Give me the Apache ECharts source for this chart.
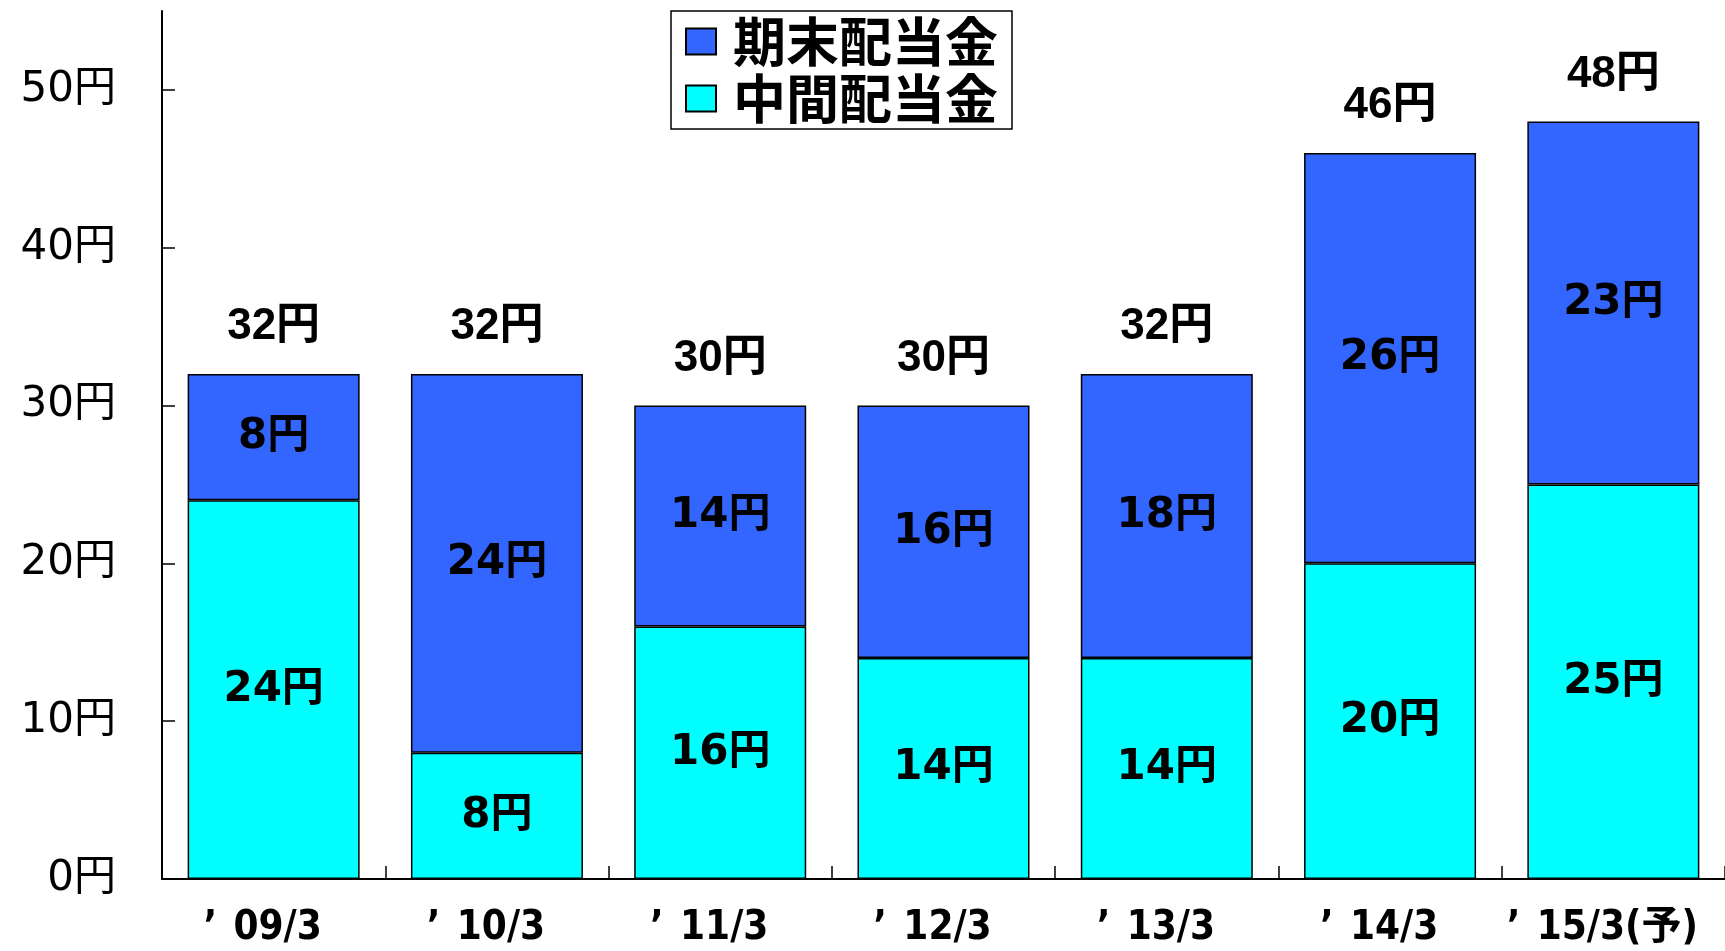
<!DOCTYPE html>
<html>
<head>
<meta charset="utf-8">
<script src="https://cdn.jsdelivr.net/npm/echarts@6/dist/echarts.min.js"></script>
<style>
html,body{margin:0;padding:0;background:#fff;}
#c{width:1725px;height:951px;}
</style>
</head>
<body>
<div id="c"></div>
<script>
var categories = ["’09/3", "’10/3", "’11/3", "’12/3", "’13/3", "’14/3", "’15/3(予)"];
var interimDividend = [24, 8, 16, 14, 14, 20, 25];   // 中間配当金
var yearEndDividend = [8, 24, 14, 16, 18, 26, 23];   // 期末配当金
var totalDividend = [32, 32, 30, 30, 32, 46, 48];
var yTicks = [0, 10, 20, 30, 40, 50];

var chart = echarts.init(document.getElementById('c'), null, {renderer: 'canvas'});
var insideLabel = {
  show: true,
  position: 'inside',
  formatter: function (p) { return p.value + '円'; },
  color: '#000',
  fontSize: 42,
  fontWeight: 'bold',
  fontFamily: '"DejaVu Sans", "Noto Sans CJK JP", sans-serif'
};
var xFont = '"Liberation Sans Narrow", "DejaVu Sans Condensed", "Noto Sans CJK JP", sans-serif';
chart.setOption({
  animation: false,
  backgroundColor: '#fff',
  grid: {left: 162, right: 0, top: 11, bottom: 72, containLabel: false},
  legend: {
    data: ['期末配当金', '中間配当金'],
    orient: 'vertical',
    left: 671,
    top: 11,
    padding: [4, 14, 4, 14],
    itemGap: 4,
    itemWidth: 30,
    itemHeight: 26,
    borderColor: '#000',
    borderWidth: 1.5,
    icon: 'rect',
    selectedMode: false,
    textStyle: {
      fontSize: 53,
      fontWeight: 'bold',
      color: '#000',
      fontFamily: '"Noto Sans CJK JP", sans-serif',
      padding: [0, 0, 0, 12]
    }
  },
  xAxis: {
    type: 'category',
    data: categories,
    axisLine: {lineStyle: {color: '#000', width: 2}},
    axisTick: {show: true, inside: true, interval: 0, length: 13, lineStyle: {color: '#000', width: 1.5}},
    axisLabel: {
      interval: 0,
      margin: 30,
      padding: [0, 22, 0, 0],
      color: '#000',
      fontSize: 40,
      fontWeight: 'bold',
      fontFamily: xFont,
      formatter: function (v) {
        return '{q|' + v.charAt(0) + '}' + v.slice(1);
      },
      rich: {
        q: {width: 30, align: 'left', fontSize: 40, fontWeight: 'bold', fontFamily: xFont, color: '#000'}
      }
    }
  },
  yAxis: {
    type: 'value',
    min: 0,
    max: 55,
    interval: 10,
    splitLine: {show: false},
    axisLine: {show: true, lineStyle: {color: '#000', width: 2}},
    axisTick: {show: true, inside: true, length: 13, lineStyle: {color: '#000', width: 1.5}, customValues: yTicks},
    axisLabel: {
      customValues: yTicks,
      margin: 46,
      color: '#000',
      fontSize: 42,
      fontFamily: '"DejaVu Sans", "Noto Sans CJK JP", sans-serif',
      formatter: function (v) { return v + '円'; }
    }
  },
  series: [
    {
      name: '中間配当金',
      type: 'bar',
      stack: 'd',
      barWidth: 172,
      data: interimDividend,
      itemStyle: {color: '#00FFFF', borderColor: '#000', borderWidth: 1.5},
      label: insideLabel
    },
    {
      name: '期末配当金',
      type: 'bar',
      stack: 'd',
      barWidth: 172,
      data: yearEndDividend,
      itemStyle: {color: '#3366FF', borderColor: '#000', borderWidth: 1.5},
      label: insideLabel
    },
    {
      name: '合計',
      type: 'bar',
      barGap: '-100%',
      barWidth: 172,
      z: 0,
      silent: true,
      data: totalDividend,
      itemStyle: {color: 'rgba(0,0,0,0)', borderWidth: 0},
      label: {
        show: true,
        position: 'top',
        distance: 25,
        formatter: function (p) { return p.value + '円'; },
        color: '#000',
        fontSize: 44,
        fontWeight: 'bold',
        fontFamily: '"Liberation Sans", "Noto Sans CJK JP", sans-serif'
      }
    }
  ]
});
</script>
</body>
</html>
